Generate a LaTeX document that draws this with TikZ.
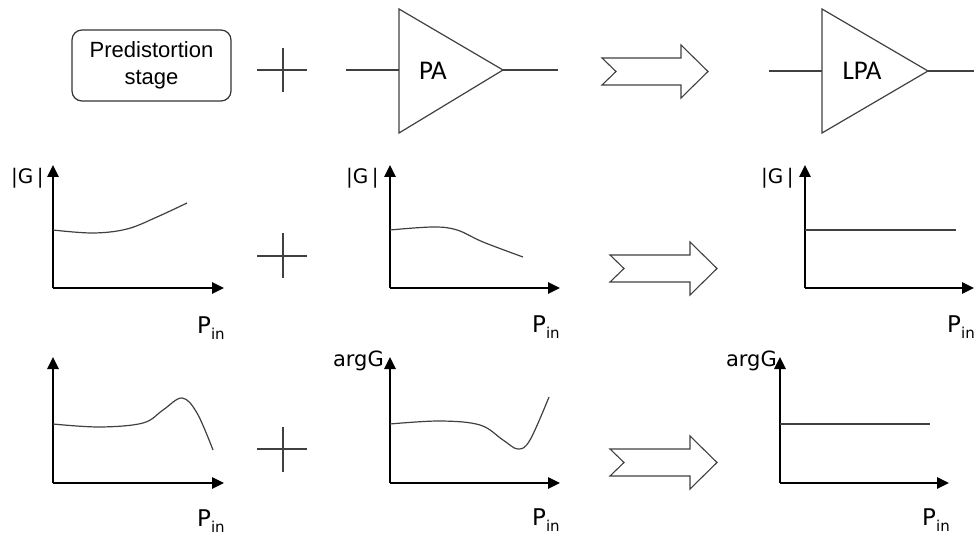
\documentclass[tikz,border=0pt]{standalone}
\usepackage{fontspec}
\usetikzlibrary{arrows.meta}
\newfontfamily\arialfont{Liberation Sans}
\newfontfamily\califont{Carlito}
\newfontfamily\dvsfont{DejaVu Sans}
\begin{document}
\begin{tikzpicture}[x=1pt,y=-1pt,
  thinline/.style={line width=1.2pt,draw=black!75},
  axisline/.style={line width=2.6pt,-{Triangle[length=12pt,width=11pt]}},
  curveline/.style={line width=1.2pt,draw=black!75},
  bigarrow/.style={line width=1.1pt,draw=black!75,fill=white,line join=miter},
  pinlabel/.style={anchor=base west,inner sep=0pt,font=\dvsfont\fontsize{23}{23}\selectfont},
  glabel/.style={anchor=base west,inner sep=0pt,font=\dvsfont\fontsize{20}{20}\selectfont},
  arglabel/.style={anchor=base east,inner sep=0pt,font=\dvsfont\fontsize{21}{21}\selectfont},
  amptext/.style={inner sep=0pt,font=\califont\fontsize{27}{27}\selectfont}
]
\useasboundingbox (0,0) rectangle (974,537);
\newcommand{\Pin}{P\raisebox{-0.3em}{\fontsize{15}{15}\selectfont in}}

% ---------- top row ----------
\node[draw=black!80,line width=1.2pt,rounded corners=10pt,minimum width=159pt,minimum height=71pt,
      inner sep=0pt,align=center,font=\arialfont\fontsize{22}{27}\selectfont] (pre) at (151.5,65.5)
      {Predistortion\\stage};

\draw[thinline] (257,70) -- (307,70);
\draw[thinline] (283,48) -- (283,92);

% PA
\coordinate (pain) at (346,70);
\coordinate (pal) at (399,70);
\coordinate (paapex) at (503,70);
\coordinate (paout) at (558,70);
\draw[thinline] (399,9) -- (paapex) -- (399,133) -- cycle;
\draw[thinline] (pain) -- (pal);
\draw[thinline] (paapex) -- (paout);
\node[amptext] (pa) at (433,71) {PA};

% arrow 1
\draw[bigarrow] (602,58) -- (681,58) -- (681,45) -- (708,71.5) -- (681,98) -- (681,85) -- (602,85) -- (616,71.5) -- cycle;

% LPA
\coordinate (lpain) at (769,71);
\coordinate (lpal) at (822,71);
\coordinate (lpaapex) at (928,71);
\coordinate (lpaout) at (974,71);
\draw[thinline] (822,9) -- (lpaapex) -- (822,133) -- cycle;
\draw[thinline] (lpain) -- (lpal);
\draw[thinline] (lpaapex) -- (lpaout);
\node[amptext] (lpa) at (862,71) {LPA};

% ---------- row 2 ----------
% graph 1
\coordinate (o1) at (53,288);
\draw[axisline] (o1) -- (53,165);
\draw[axisline] (o1) -- (224,288);
\draw[curveline] plot[smooth,tension=0.6] coordinates {(53,230) (93,233) (127,229) (157,217) (187,203)};
\node[glabel] (g1) at (11,184) {|G\,|};
\node[pinlabel] (p1) at (197,333) {\Pin};

\draw[thinline] (257,256) -- (307,256);
\draw[thinline] (283,233) -- (283,278);

% graph 2
\coordinate (o2) at (390,288);
\draw[axisline] (o2) -- (390,165);
\draw[axisline] (o2) -- (560,288);
\draw[curveline] plot[smooth,tension=0.6] coordinates {(390,230) (433,227) (457,230) (483,242) (523,257)};
\node[glabel] (g2) at (346,184) {|G\,|};
\node[pinlabel] (p2) at (532,332) {\Pin};

% arrow 2
\draw[bigarrow] (610,255) -- (690,255) -- (690,242) -- (717,268.5) -- (690,295) -- (690,282) -- (610,282) -- (624,268.5) -- cycle;

% graph 3
\coordinate (o3) at (805,288);
\draw[axisline] (o3) -- (805,165);
\draw[axisline] (o3) -- (974,288);
\draw[curveline] (805,230) -- (956,230);
\node[glabel] (g3) at (761,184) {|G\,|};
\node[pinlabel] (p3) at (947,332) {\Pin};

% ---------- row 3 ----------
% graph 4
\coordinate (o4) at (53,483);
\draw[axisline] (o4) -- (53,357);
\draw[axisline] (o4) -- (224,483);
\draw[curveline] plot[smooth,tension=0.6] coordinates {(53,424) (100,427) (143,423) (163,410) (182,398) (197,413) (213,450)};
\node[pinlabel] (p4) at (197,526) {\Pin};

\draw[thinline] (257,449) -- (307,449);
\draw[thinline] (283,427) -- (283,472);

% graph 5
\coordinate (o5) at (390,483);
\draw[axisline] (o5) -- (390,357);
\draw[axisline] (o5) -- (560,483);
\draw[curveline] plot[smooth,tension=0.6] coordinates {(390,424) (440,421) (480,425) (503,440) (518,449) (530,440) (549,397)};
\node[arglabel] (a5) at (384,366) {argG};
\node[pinlabel] (p5) at (532,525) {\Pin};

% arrow 3
\draw[bigarrow] (610,449) -- (690,449) -- (690,436) -- (717,462.5) -- (690,489) -- (690,476) -- (610,476) -- (624,462.5) -- cycle;

% graph 6
\coordinate (o6) at (780,483);
\draw[axisline] (o6) -- (780,357);
\draw[axisline] (o6) -- (949,483);
\draw[curveline] (780,424) -- (930,424);
\node[arglabel] (a6) at (777,366) {argG};
\node[pinlabel] (p6) at (922,525) {\Pin};
\end{tikzpicture}
\end{document}
